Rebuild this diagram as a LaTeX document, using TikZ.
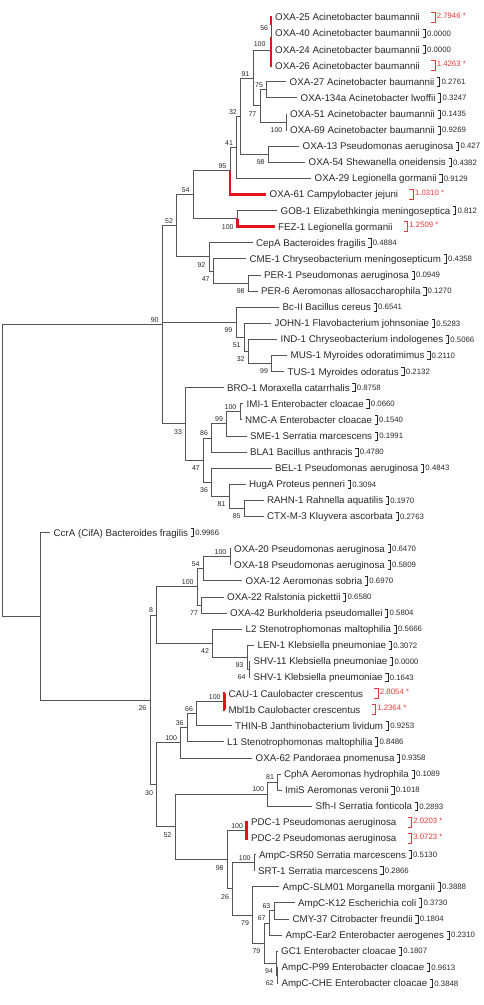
\documentclass[tikz,border=0pt]{standalone}
\usepackage{fontspec}
\setmainfont{Liberation Sans}
\definecolor{lc}{RGB}{85,85,85}
\definecolor{tc}{RGB}{40,40,40}
\definecolor{rc}{RGB}{225,20,30}
\definecolor{rtc}{RGB}{235,55,55}
\tikzset{
  br/.style={draw=lc, line width=0.8pt},
  redbr/.style={draw=rc, line width=2.6pt},
  lname/.style={anchor=base west, inner sep=0pt, font=\fontsize{9.75}{11}\selectfont, text=tc},
  bval/.style={anchor=base west, inner sep=0pt, font=\fontsize{7.8}{9}\selectfont, text=tc},
  rval/.style={anchor=base west, inner sep=0pt, font=\fontsize{7.8}{9}\selectfont, text=rtc},
  bsl/.style={anchor=base east, inner sep=0pt, font=\fontsize{7}{8}\selectfont, text=tc},
  brk/.style={draw=tc, line width=0.6pt},
  rbrk/.style={draw=rtc, line width=0.6pt}
}
\newcommand{\lf}[4]{\coordinate (L#1) at (#2,#3);
  \node[lname] (T#1) at ([xshift=3.5pt,yshift=-3.5pt]L#1) {#4};}
\newcommand{\bv}[2]{\draw[brk] ([xshift=2.5pt,yshift=7.6pt]T#1.base east) -- ++(2.6pt,0pt) -- ++(0pt,-8.2pt) -- ++(-2.6pt,0pt);
  \node[bval] (V#1) at ([xshift=6.8pt,yshift=0.7pt]T#1.base east) {#2};}
\newcommand{\rv}[2]{\draw[rbrk] ([xshift=11pt,yshift=8.5pt]T#1.base east) -- ++(4pt,0pt) -- ++(0pt,-10pt) -- ++(-4pt,0pt);
  \node[rval] (V#1) at ([xshift=16.5pt,yshift=2.7pt]T#1.base east) {#2};}
\newcommand{\bsa}[2]{\node[bsl] (B#1) at ([xshift=-3.5pt,yshift=2.2pt]#1) {#2};}
\newcommand{\bsb}[2]{\node[bsl] (B#1) at ([xshift=-3.5pt,yshift=-10.5pt]#1) {#2};}
\begin{document}
\begin{tikzpicture}[x=1pt,y=-1pt]
\useasboundingbox (0,0) rectangle (483,1005);
\clip (0,0) rectangle (483,1005);
% leaves
\lf{1}{271.5}{17.3}{OXA-25 Acinetobacter baumannii}
\lf{2}{271.5}{33.4}{OXA-40 Acinetobacter baumannii}
\lf{3}{271.5}{49.5}{OXA-24 Acinetobacter baumannii}
\lf{4}{271.5}{65.6}{OXA-26 Acinetobacter baumannii}
\lf{5}{286}{81.7}{OXA-27 Acinetobacter baumannii}
\lf{6}{297}{97.8}{OXA-134a Acinetobacter lwoffii}
\lf{7}{286.5}{113.9}{OXA-51 Acinetobacter baumannii}
\lf{8}{286.5}{130.0}{OXA-69 Acinetobacter baumannii}
\lf{9}{299}{146.1}{OXA-13 Pseudomonas aeruginosa}
\lf{10}{305}{162.2}{OXA-54 Shewanella oneidensis}
\lf{11}{311}{178.3}{OXA-29 Legionella gormanii}
\lf{12}{266}{194.4}{OXA-61 Campylobacter jejuni}
\lf{13}{277}{210.5}{GOB-1 Elizabethkingia meningoseptica}
\lf{14}{274.5}{226.6}{FEZ-1 Legionella gormanii}
\lf{15}{252.5}{242.7}{CepA Bacteroides fragilis}
\lf{16}{246}{258.8}{CME-1 Chryseobacterium meningosepticum}
\lf{17}{260.5}{274.9}{PER-1 Pseudomonas aeruginosa}
\lf{18}{257.5}{291.0}{PER-6 Aeromonas allosaccharophila}
\lf{19}{279}{307.1}{Bc-II Bacillus cereus}
\lf{20}{271}{323.2}{JOHN-1 Flavobacterium johnsoniae}
\lf{21}{277}{339.3}{IND-1 Chryseobacterium indologenes}
\lf{22}{287}{355.4}{MUS-1 Myroides odoratimimus}
\lf{23}{284}{371.5}{TUS-1 Myroides odoratus}
\lf{24}{223.5}{387.6}{BRO-1 Moraxella catarrhalis}
\lf{25}{243}{403.7}{IMI-1 Enterobacter cloacae}
\lf{26}{241.5}{419.8}{NMC-A Enterobacter cloacae}
\lf{27}{246.5}{435.9}{SME-1 Serratia marcescens}
\lf{28}{246.5}{452.0}{BLA1 Bacillus anthracis}
\lf{29}{271.5}{468.1}{BEL-1 Pseudomonas aeruginosa}
\lf{30}{245.5}{484.2}{HugA Proteus penneri}
\lf{31}{263.5}{500.3}{RAHN-1 Rahnella aquatilis}
\lf{32}{263.5}{516.4}{CTX-M-3 Kluyvera ascorbata}
\lf{33}{50}{532.5}{CcrA (CifA) Bacteroides fragilis}
\lf{34}{230.5}{548.6}{OXA-20 Pseudomonas aeruginosa}
\lf{35}{230.5}{564.7}{OXA-18 Pseudomonas aeruginosa}
\lf{36}{242}{580.8}{OXA-12 Aeromonas sobria}
\lf{37}{223.5}{596.9}{OXA-22 Ralstonia pickettii}
\lf{38}{226.5}{613.0}{OXA-42 Burkholderia pseudomallei}
\lf{39}{242}{629.1}{L2 Stenotrophomonas maltophilia}
\lf{40}{254}{645.2}{LEN-1 Klebsiella pneumoniae}
\lf{41}{250}{661.3}{SHV-11 Klebsiella pneumoniae}
\lf{42}{250}{677.4}{SHV-1 Klebsiella pneumoniae}
\lf{43}{225}{693.5}{CAU-1 Caulobacter crescentus}
\lf{44}{225}{709.6}{Mbl1b Caulobacter crescentus}
\lf{45}{231.5}{725.7}{THIN-B Janthinobacterium lividum}
\lf{46}{223.5}{741.8}{L1 Stenotrophomonas maltophilia}
\lf{47}{252}{757.9}{OXA-62 Pandoraea pnomenusa}
\lf{48}{280.5}{774.0}{CphA Aeromonas hydrophila}
\lf{49}{281.5}{790.1}{ImiS Aeromonas veronii}
\lf{50}{312}{806.2}{Sfh-I Serratia fonticola}
\lf{51}{247.5}{822.3}{PDC-1 Pseudomonas aeruginosa}
\lf{52}{247.5}{838.4}{PDC-2 Pseudomonas aeruginosa}
\lf{53}{255.5}{854.5}{AmpC-SR50 Serratia marcescens}
\lf{54}{254.5}{870.6}{SRT-1 Serratia marcescens}
\lf{55}{279}{886.7}{AmpC-SLM01 Morganella morganii}
\lf{56}{294.5}{902.8}{AmpC-K12 Escherichia coli}
\lf{57}{289}{918.9}{CMY-37 Citrobacter freundii}
\lf{58}{282}{935.0}{AmpC-Ear2 Enterobacter aerogenes}
\lf{59}{277.5}{951.1}{GC1 Enterobacter cloacae}
\lf{60}{278}{967.2}{AmpC-P99 Enterobacter cloacae}
\lf{61}{277.8}{983.3}{AmpC-CHE Enterobacter cloacae}
% internal nodes
\coordinate (n56) at (271,25.35);
\coordinate (nA) at (271,37.4);
\coordinate (n100t) at (271,50.5);
\coordinate (n75) at (266.7,89.75);
\coordinate (n100b) at (286,121.95);
\coordinate (n77) at (260,105.85);
\coordinate (n91) at (253,78.2);
\coordinate (n98) at (268.3,154.15);
\coordinate (n32) at (240.5,116.2);
\coordinate (n41) at (236.7,147.25);
\coordinate (n95) at (230,170.8);
\coordinate (nFEZ) at (237.3,218.55);
\coordinate (n54) at (193.3,194.7);
\coordinate (n98P) at (248.3,282.95);
\coordinate (n47) at (213.3,270.9);
\coordinate (n92) at (209,256.8);
\coordinate (n52) at (176.7,225.75);
\coordinate (n99M) at (271.7,363.45);
\coordinate (n32b) at (248.3,351.4);
\coordinate (n51) at (244.3,337.3);
\coordinate (n99b) at (236,322.2);
\coordinate (n100I) at (240,411.75);
\coordinate (n99c) at (226.7,423.8);
\coordinate (n86) at (211.7,437.9);
\coordinate (n85) at (244.3,508.35);
\coordinate (n81) at (229,496.3);
\coordinate (n36) at (211.7,482.2);
\coordinate (n47b) at (203.5,460.05);
\coordinate (n33) at (185.7,423.8);
\coordinate (n90) at (162.3,324.8);
\coordinate (n100O) at (230,556.65);
\coordinate (n54b) at (203.3,568.7);
\coordinate (n77b) at (201.7,604.95);
\coordinate (n100bb) at (197.3,586.8);
\coordinate (n64) at (249.3,669.35);
\coordinate (n93) at (247,657.3);
\coordinate (n42) at (212.7,643.2);
\coordinate (n8) at (156.7,615.0);
\coordinate (nCAU) at (224.3,701.55);
\coordinate (n66) at (196.7,713.6);
\coordinate (n36b) at (187.3,727.7);
\coordinate (n100c) at (180.7,742.8);
\coordinate (n81b) at (277.7,782.05);
\coordinate (n100d) at (267.7,794.1);
\coordinate (nPDC) at (246.7,830.35);
\coordinate (n100f) at (254.3,862.55);
\coordinate (n63) at (274,910.85);
\coordinate (n67) at (269.3,922.9);
\coordinate (n62) at (277.3,975.25);
\coordinate (n94) at (276.7,963.2);
\coordinate (n79b) at (264,943.05);
\coordinate (n79a) at (252.7,914.9);
\coordinate (n26b) at (232.7,888.7);
\coordinate (n98b) at (227.3,859.5);
\coordinate (n52b) at (175,826.8);
\coordinate (n30) at (156.7,784.8);
\coordinate (n26) at (150,699.9);
\coordinate (nC) at (40.7,616.2);
\coordinate (root) at (2.3,470.5);
% branches
\draw[br] (root) |- (n90); \draw[br] (root) |- (nC);
\draw[br] (n90) |- (n52); \draw[br] (n90) |- (n99b); \draw[br] (n90) |- (n33);
\draw[br] (n52) |- (n54); \draw[br] (n52) |- (n92);
\draw[br] (n54) |- (n95); \draw[br] (n54) |- (nFEZ);
\draw[br] (n95) |- (n41); \draw[br] (n95) |- (L12);
\draw[br] (n41) |- (n32); \draw[br] (n41) |- (L11);
\draw[br] (n32) |- (n91); \draw[br] (n32) |- (n98);
\draw[br] (n91) |- (n100t); \draw[br] (n91) |- (n77);
\draw[br] (n100t) |- (nA); \draw[br] (n100t) |- (L4);
\draw[br] (nA) |- (n56); \draw[br] (nA) |- (L3);
\draw[br] (n56) |- (L1); \draw[br] (n56) |- (L2);
\draw[br] (n77) |- (n75); \draw[br] (n77) |- (n100b);
\draw[br] (n75) |- (L5); \draw[br] (n75) |- (L6);
\draw[br] (n100b) |- (L7); \draw[br] (n100b) |- (L8);
\draw[br] (n98) |- (L9); \draw[br] (n98) |- (L10);
\draw[br] (nFEZ) |- (L13); \draw[br] (nFEZ) |- (L14);
\draw[br] (n92) |- (L15); \draw[br] (n92) |- (n47);
\draw[br] (n47) |- (L16); \draw[br] (n47) |- (n98P);
\draw[br] (n98P) |- (L17); \draw[br] (n98P) |- (L18);
\draw[br] (n99b) |- (L19); \draw[br] (n99b) |- (n51);
\draw[br] (n51) |- (L20); \draw[br] (n51) |- (n32b);
\draw[br] (n32b) |- (L21); \draw[br] (n32b) |- (n99M);
\draw[br] (n99M) |- (L22); \draw[br] (n99M) |- (L23);
\draw[br] (n33) |- (L24); \draw[br] (n33) |- (n47b);
\draw[br] (n47b) |- (n86); \draw[br] (n47b) |- (n36);
\draw[br] (n86) |- (n99c); \draw[br] (n86) |- (L28);
\draw[br] (n99c) |- (n100I); \draw[br] (n99c) |- (L27);
\draw[br] (n100I) |- (L25); \draw[br] (n100I) |- (L26);
\draw[br] (n36) |- (L29); \draw[br] (n36) |- (n81);
\draw[br] (n81) |- (L30); \draw[br] (n81) |- (n85);
\draw[br] (n85) |- (L31); \draw[br] (n85) |- (L32);
\draw[br] (nC) |- (L33); \draw[br] (nC) |- (n26);
\draw[br] (n26) |- (n8); \draw[br] (n26) |- (n30);
\draw[br] (n8) |- (n100bb); \draw[br] (n8) |- (n42);
\draw[br] (n100bb) |- (n54b); \draw[br] (n100bb) |- (n77b);
\draw[br] (n54b) |- (n100O); \draw[br] (n54b) |- (L36);
\draw[br] (n100O) |- (L34); \draw[br] (n100O) |- (L35);
\draw[br] (n77b) |- (L37); \draw[br] (n77b) |- (L38);
\draw[br] (n42) |- (L39); \draw[br] (n42) |- (n93);
\draw[br] (n93) |- (L40); \draw[br] (n93) |- (n64);
\draw[br] (n64) |- (L41); \draw[br] (n64) |- (L42);
\draw[br] (n30) |- (n100c); \draw[br] (n30) |- (n52b);
\draw[br] (n100c) |- (n36b); \draw[br] (n100c) |- (L47);
\draw[br] (n36b) |- (n66); \draw[br] (n36b) |- (L46);
\draw[br] (n66) |- (nCAU); \draw[br] (n66) |- (L45);
\draw[br] (nCAU) |- (L43); \draw[br] (nCAU) |- (L44);
\draw[br] (n52b) |- (n100d); \draw[br] (n52b) |- (n98b);
\draw[br] (n100d) |- (n81b); \draw[br] (n100d) |- (L50);
\draw[br] (n81b) |- (L48); \draw[br] (n81b) |- (L49);
\draw[br] (n98b) |- (nPDC); \draw[br] (n98b) |- (n26b);
\draw[br] (nPDC) |- (L51); \draw[br] (nPDC) |- (L52);
\draw[br] (n26b) |- (n100f); \draw[br] (n26b) |- (n79a);
\draw[br] (n100f) |- (L53); \draw[br] (n100f) |- (L54);
\draw[br] (n79a) |- (L55); \draw[br] (n79a) |- (n79b);
\draw[br] (n79b) |- (n67); \draw[br] (n79b) |- (n94);
\draw[br] (n67) |- (n63); \draw[br] (n67) |- (L58);
\draw[br] (n63) |- (L56); \draw[br] (n63) |- (L57);
\draw[br] (n94) |- (L59); \draw[br] (n94) |- (n62);
\draw[br] (n62) |- (L60); \draw[br] (n62) |- (L61);
% highlighted branches
\draw[redbr] (n56) |- (L1);
\draw[redbr] (n100t) |- (nA); \draw[redbr] (n100t) |- (L4);
\draw[redbr] (n95) |- (L12);
\draw[redbr] (nFEZ) |- (L14);
\draw[redbr] (nCAU) |- (L43); \draw[redbr] (nCAU) |- (L44);
\draw[redbr] (nPDC) |- (L51); \draw[redbr] (nPDC) |- (L52);
% values
\rv{1}{2.7946 *}
\bv{2}{0.0000}
\bv{3}{0.0000}
\rv{4}{1.4263 *}
\bv{5}{0.2761}
\bv{6}{0.3247}
\bv{7}{0.1435}
\bv{8}{0.9269}
\bv{9}{0.427}
\bv{10}{0.4382}
\bv{11}{0.9129}
\rv{12}{1.0310 *}
\bv{13}{0.812}
\rv{14}{1.2509 *}
\bv{15}{0.4884}
\bv{16}{0.4358}
\bv{17}{0.0949}
\bv{18}{0.1270}
\bv{19}{0.6541}
\bv{20}{0.5283}
\bv{21}{0.5066}
\bv{22}{0.2110}
\bv{23}{0.2132}
\bv{24}{0.8758}
\bv{25}{0.0660}
\bv{26}{0.1540}
\bv{27}{0.1991}
\bv{28}{0.4780}
\bv{29}{0.4843}
\bv{30}{0.3094}
\bv{31}{0.1970}
\bv{32}{0.2763}
\bv{33}{0.9966}
\bv{34}{0.6470}
\bv{35}{0.5809}
\bv{36}{0.6970}
\bv{37}{0.6580}
\bv{38}{0.5804}
\bv{39}{0.5666}
\bv{40}{0.3072}
\bv{41}{0.0000}
\bv{42}{0.1643}
\rv{43}{2.8054 *}
\rv{44}{1.2364 *}
\bv{45}{0.9253}
\bv{46}{0.8486}
\bv{47}{0.9358}
\bv{48}{0.1089}
\bv{49}{0.1018}
\bv{50}{0.2893}
\rv{51}{2.0203 *}
\rv{52}{3.0723 *}
\bv{53}{0.5130}
\bv{54}{0.2866}
\bv{55}{0.3888}
\bv{56}{0.3730}
\bv{57}{0.1804}
\bv{58}{0.2310}
\bv{59}{0.1807}
\bv{60}{0.9613}
\bv{61}{0.3848}
% bootstrap values
\node[bsl] (Bt56) at (268.3,30.8) {56};
\node[bsl] (Bt100) at (265.7,46.8) {100};
\bsa{n91}{91} \bsa{n75}{75} \bsb{n77}{77} \bsb{n100b}{100}
\bsa{n32}{32} \bsb{n98}{98} \bsa{n41}{41} \bsa{n95}{95}
\bsa{n54}{54} \bsb{nFEZ}{100} \bsa{n52}{52} \bsb{n92}{92}
\bsb{n47}{47} \bsb{n98P}{98} \bsa{n90}{90} \bsb{n99b}{99}
\bsb{n51}{51} \bsb{n32b}{32} \bsb{n99M}{99} \bsb{n33}{33}
\bsa{n100I}{100} \bsa{n99c}{99} \bsa{n86}{86} \bsb{n47b}{47}
\bsb{n36}{36} \bsb{n81}{81} \bsb{n85}{85}
\bsa{n100O}{100} \bsa{n54b}{54} \bsa{n100bb}{100} \bsb{n77b}{77}
\bsa{n8}{8} \bsb{n42}{42} \bsb{n93}{93} \bsb{n64}{64} \bsb{n26}{26}
\bsa{nCAU}{100} \bsa{n66}{66} \bsa{n36b}{36} \bsa{n100c}{100}
\bsb{n30}{30} \bsa{n81b}{81} \bsa{n100d}{100} \bsb{n52b}{52}
\bsa{nPDC}{100} \bsb{n98b}{98} \bsa{n100f}{100} \bsb{n26b}{26}
\bsb{n79a}{79} \bsb{n79b}{79} \bsa{n67}{67} \bsa{n63}{63}
\bsb{n94}{94} \bsb{n62}{62}
\end{tikzpicture}
\end{document}
